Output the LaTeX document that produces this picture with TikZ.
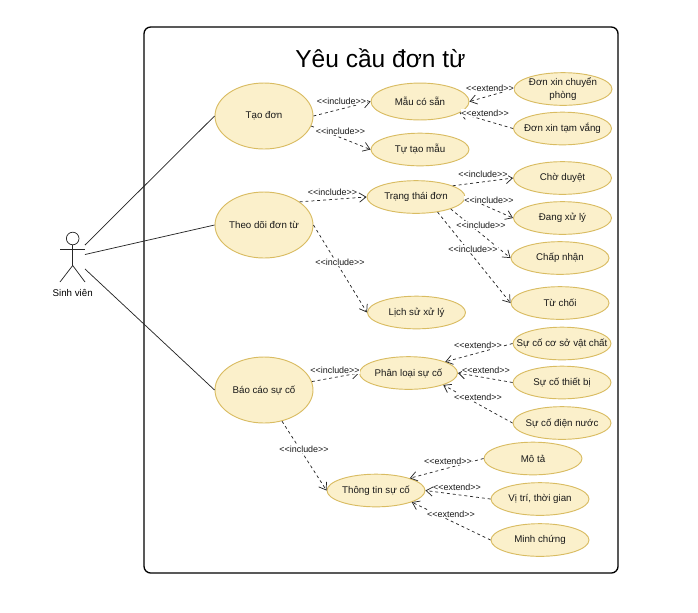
\documentclass[tikz,border=0pt]{standalone}
\usepackage{fontspec}
\setmainfont{Liberation Sans}
\usetikzlibrary{shapes.geometric,arrows.meta}
\definecolor{myfill}{HTML}{FBF0CB}
\definecolor{mystroke}{HTML}{D9BC62}

\begin{document}
\begin{tikzpicture}[x=0.75pt,y=-0.75pt,font=\fontsize{7.3}{9.5}\selectfont]

	\tikzstyle{usecase}=[ellipse,draw=mystroke,fill=myfill,line width=0.7pt,inner sep=-10pt,align=center,text=black!90]
	\tikzstyle{myarrow}=[line width=0.55pt,black!85,dash pattern=on 2.2pt off 2.2pt,-{Straight Barb[length=5pt,width=7pt]}]
	\tikzstyle{mylabel}=[fill=white,inner sep=0.4pt,font=\fontsize{6.7}{8}\selectfont,text=black!90]
	\tikzstyle{myline}=[line width=0.55pt,black!85]

	\useasboundingbox (0,0) rectangle (698,612);
	\draw[line width=1pt,rounded corners=5pt] (144,27) rectangle (618,573);
	\node (title) at (380.5,58) {\fontsize{18.4}{22}\selectfont Yêu cầu đơn từ};

	% actor
	\draw[myline] (72.7,238.5) circle (6.3);
	\coordinate (head) at (72.7,244.8);
	\coordinate (hip) at (72.7,265.5);
	\coordinate (armL) at (60,249);
	\coordinate (armR) at (85,249);
	\coordinate (legL) at (60,282);
	\coordinate (legR) at (85,282);
	\draw[myline] (head) -- (hip);
	\draw[myline] (armL) -- (armR);
	\draw[myline] (legL) -- (hip) -- (legR);
	\node (actor) at (72.7,293) {Sinh viên};
	\coordinate (a1) at (85,245);
	\coordinate (a2) at (85,254.5);
	\coordinate (a3) at (85,269);

	% big use cases
	\foreach \name / \x / \y / \txt in {taodon/264/116/{Tạo đơn},theodoi/264/225/{Theo dõi đơn từ},baocao/264/390/{Báo cáo sự cố}}
		{ \node[usecase,minimum width=73.5pt,minimum height=49.5pt] (\name) at (\x,\y) {\txt}; }

	\node[usecase,minimum width=73.5pt,minimum height=27.7pt] (maucosan) at (420,101.5) {Mẫu có sẵn};

	% small use cases
	\foreach \name / \x / \y / \txt in {tutao/420/149.5/{Tự tạo mẫu},chuyenphong/563/89/{Đơn xin chuyển\\phòng},tamvang/562.5/128.5/{Đơn xin tạm vắng},trangthai/416/197/{Trạng thái đơn},choduyet/562.5/178/{Chờ duyệt},dangxuly/562.5/218/{Đang xử lý},chapnhan/560/258/{Chấp nhận},tuchoi/560/303/{Từ chối},lichsu/416.5/312.5/{Lịch sử xử lý},phanloai/408.5/373/{Phân loại sự cố},coso/562/343.5/{Sự cố cơ sở vật chất},thietbi/562/382.5/{Sự cố thiết bị},diennuoc/562/423/{Sự cố điện nước},thongtin/376/490.5/{Thông tin sự cố},mota/533/458.5/{Mô tả},vitri/540/499/{Vị trí, thời gian},minhchung/540/540/{Minh chứng}}
		{ \node[usecase,minimum width=73.5pt,minimum height=24.5pt] (\name) at (\x,\y) {\txt}; }

	\draw[myline] (a1) -- (taodon.west);
	\draw[myline] (a2) -- (theodoi.west);
	\draw[myline] (a3) -- (baocao.west);

	\foreach \a / \b in {taodon.east/maucosan.west,taodon.-12/tutao.west,chuyenphong.west/maucosan.east,tamvang.west/maucosan.-16,theodoi.33/trangthai.west,trangthai.17/choduyet.west,trangthai.east/dangxuly.west,trangthai.-19/chapnhan.west,trangthai.-35/tuchoi.west,theodoi.east/lichsu.west,baocao.10/phanloai.west,coso.west/phanloai.17,thietbi.west/phanloai.east,diennuoc.west/phanloai.-19,baocao.-60/thongtin.west,mota.west/thongtin.20,vitri.west/thongtin.east,minhchung.west/thongtin.-18}
		{ \draw[myarrow] (\a) -- (\b); }

	\foreach \x / \y [count=\n] in {341.5/101,340.5/131,332.5/192,483/174,489/200,481/225,473/249,340/262,335/370,304/449}
		{ \node[mylabel] (inc\n) at (\x,\y) {{<}{<}include{>}{>}}; }
	\foreach \x / \y [count=\n] in {490/88,485/113,478/345,486/370,478/397,448/461,457/487,451/514}
		{ \node[mylabel] (ext\n) at (\x,\y) {{<}{<}extend{>}{>}}; }
\end{tikzpicture}
\end{document}
